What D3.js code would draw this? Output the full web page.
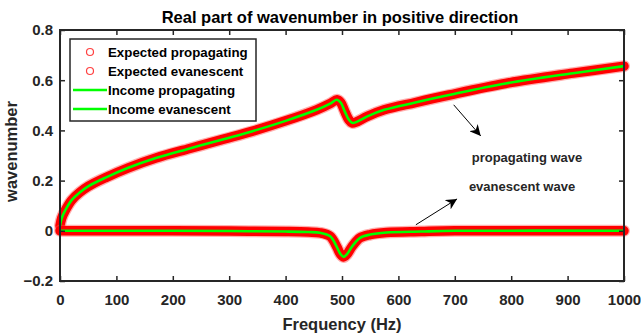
<!DOCTYPE html>
<html>
<head>
<meta charset="utf-8">
<script src="https://cdn.jsdelivr.net/npm/d3@7"></script>
<style>
  body { margin: 0; background: #fff; }
  svg { font-family: 'Liberation Sans', Arial, sans-serif; }
  .tick text { font-weight: bold; font-size: 15px; fill: #262626; }
</style>
</head>
<body>
<svg width="641" height="334"></svg>
<script>
// values
const propFreq = [0, 3, 9, 21, 35, 50, 80, 120, 170, 230, 290, 340, 400, 455, 480, 491, 498, 505, 512, 518, 525, 545, 575, 630, 690, 790, 910, 1000]
const propValue = [0.02, 0.05, 0.08, 0.123, 0.153, 0.177, 0.211, 0.25, 0.29, 0.328, 0.365, 0.396, 0.438, 0.482, 0.508, 0.522, 0.51, 0.475, 0.443, 0.43, 0.433, 0.456, 0.482, 0.511, 0.541, 0.587, 0.628, 0.656]

const evanFreq = [0, 100, 200, 300, 400, 440, 461, 479, 491, 497, 503, 509, 518, 532, 550, 579, 640, 700, 1000]
const evanValue = [0, 0, 0, -0.001, -0.003, -0.005, -0.008, -0.022, -0.065, -0.092, -0.104, -0.093, -0.062, -0.028, -0.015, -0.007, -0.003, 0, 0]

const xTicks = [0, 100, 200, 300, 400, 500, 600, 700, 800, 900, 1000]
const yTicks = [-0.2, 0, 0.2, 0.4, 0.6, 0.8]

const legendLabels = ['Expected propagating', 'Expected evanescent', 'Income propagating', 'Income evanescent']

const svg = d3.select('svg')
const plotLeft = 60, plotRight = 624, plotTop = 30, plotBottom = 281
const axisColor = '#262626'

const x = d3.scaleLinear().domain([0, 1000]).range([plotLeft, plotRight])
const y = d3.scaleLinear().domain([-0.2, 0.8]).range([plotBottom, plotTop])

const propData = propFreq.map((f, i) => ({ f, v: propValue[i] }))
const evanData = evanFreq.map((f, i) => ({ f, v: evanValue[i] }))

const line = d3.line()
    .x(d => x(d.f))
    .y(d => y(d.v))
    .curve(d3.curveCatmullRom.alpha(0.5))

// expected (red markers, dense enough to form a band)
const dataG = svg.append('g').attr('class', 'data-container')
;[propData, evanData].forEach(data => {
    dataG.append('path')
        .attr('d', line(data))
        .attr('fill', 'none')
        .attr('stroke', '#ff5050')
        .attr('stroke-opacity', 0.45)
        .attr('stroke-width', 12)
        .attr('stroke-linecap', 'round')
        .attr('stroke-linejoin', 'round')
    dataG.append('path')
        .attr('d', line(data))
        .attr('fill', 'none')
        .attr('stroke', '#ff0000')
        .attr('stroke-width', 9.5)
        .attr('stroke-linecap', 'round')
        .attr('stroke-linejoin', 'round')
})
// income (green lines)
;[propData, evanData].forEach(data => {
    dataG.append('path')
        .attr('d', line(data))
        .attr('fill', 'none')
        .attr('stroke', '#00ff00')
        .attr('stroke-width', 2.6)
        .attr('stroke-linejoin', 'round')
})

// axes, MATLAB-style inward ticks on all four sides
svg.append('g')
    .attr('transform', `translate(0, ${plotBottom})`)
    .call(d3.axisBottom(x).tickValues(xTicks).tickSizeInner(-5).tickSizeOuter(0).tickPadding(13).tickFormat(d3.format('d')))
svg.append('g')
    .attr('transform', `translate(${plotLeft}, 0)`)
    .call(d3.axisLeft(y).tickValues(yTicks).tickSizeInner(-5).tickSizeOuter(0).tickPadding(7)
        .tickFormat(d => d === 0 ? '0' : d3.format('.1f')(d)))
svg.append('g')
    .attr('transform', `translate(0, ${plotTop})`)
    .call(d3.axisTop(x).tickValues(xTicks).tickSizeInner(-5).tickSizeOuter(0).tickFormat(''))
svg.append('g')
    .attr('transform', `translate(${plotRight}, 0)`)
    .call(d3.axisRight(y).tickValues(yTicks).tickSizeInner(-5).tickSizeOuter(0).tickFormat(''))

svg.selectAll('.domain').remove()
svg.selectAll('.tick line').attr('stroke', axisColor).attr('stroke-width', 1.5)

svg.append('rect')
    .attr('x', plotLeft)
    .attr('y', plotTop)
    .attr('width', plotRight - plotLeft)
    .attr('height', plotBottom - plotTop)
    .attr('fill', 'none')
    .attr('stroke', axisColor)
    .attr('stroke-width', 2)

// titles
svg.append('text')
    .attr('x', 340)
    .attr('y', 22.5)
    .attr('text-anchor', 'middle')
    .attr('font-size', '16.5px')
    .attr('font-weight', 'bold')
    .attr('fill', '#000')
    .text('Real part of wavenumber in positive direction')

svg.append('text')
    .attr('x', (plotLeft + plotRight) / 2)
    .attr('y', 330)
    .attr('text-anchor', 'middle')
    .attr('font-size', '16.5px')
    .attr('font-weight', 'bold')
    .attr('fill', axisColor)
    .text('Frequency (Hz)')

svg.append('text')
    .attr('transform', `translate(17, 151.5) rotate(-90)`)
    .attr('text-anchor', 'middle')
    .attr('font-size', '16.5px')
    .attr('font-weight', 'bold')
    .attr('fill', axisColor)
    .text('wavenumber')

// legend
const legend = svg.append('g').attr('class', 'legend-container')
legend.append('rect')
    .attr('x', 70)
    .attr('y', 39)
    .attr('width', 186)
    .attr('height', 82)
    .attr('fill', '#fff')
    .attr('stroke', axisColor)
    .attr('stroke-width', 1.5)

legendLabels.forEach((label, i) => {
    const cy = 52 + i * 19
    const item = legend.append('g').attr('class', 'legend-item')
    if (i < 2) {
        item.append('circle')
            .attr('cx', 90)
            .attr('cy', cy)
            .attr('r', 3.5)
            .attr('fill', 'none')
            .attr('stroke', '#ff4040')
            .attr('stroke-width', 1.2)
    } else {
        item.append('line')
            .attr('x1', 73)
            .attr('x2', 107)
            .attr('y1', cy)
            .attr('y2', cy)
            .attr('stroke', '#00ff00')
            .attr('stroke-width', 2.6)
    }
    item.append('text')
        .attr('x', 108)
        .attr('y', cy + 4.6)
        .attr('font-size', '13.3px')
        .attr('font-weight', 'bold')
        .attr('fill', '#000')
        .text(label)
})

// annotations
svg.append('defs').append('marker')
    .attr('id', 'head')
    .attr('viewBox', '0 0 10 10')
    .attr('refX', 10)
    .attr('refY', 5)
    .attr('markerWidth', 11)
    .attr('markerHeight', 11)
    .attr('markerUnits', 'userSpaceOnUse')
    .attr('orient', 'auto')
    .append('path')
    .attr('d', 'M0,0 L10,5 L0,10 L3,5 Z')
    .attr('fill', '#000')

const arrows = [
    { from: [698, 0.502], to: [746, 0.378] },
    { from: [631, 0.024], to: [704, 0.127] },
]
arrows.forEach(a => {
    svg.append('line')
        .attr('x1', x(a.from[0]))
        .attr('y1', y(a.from[1]))
        .attr('x2', x(a.to[0]))
        .attr('y2', y(a.to[1]))
        .attr('stroke', '#000')
        .attr('stroke-width', 1)
        .attr('marker-end', 'url(#head)')
})

const notes = [
    { f: 730, v: 0.275, text: 'propagating wave' },
    { f: 725, v: 0.158, text: 'evanescent wave' },
]
notes.forEach(n => {
    svg.append('text')
        .attr('x', x(n.f))
        .attr('y', y(n.v))
        .attr('font-size', '13px')
        .attr('font-weight', 'bold')
        .attr('fill', '#262626')
        .text(n.text)
})
</script>
</body>
</html>
